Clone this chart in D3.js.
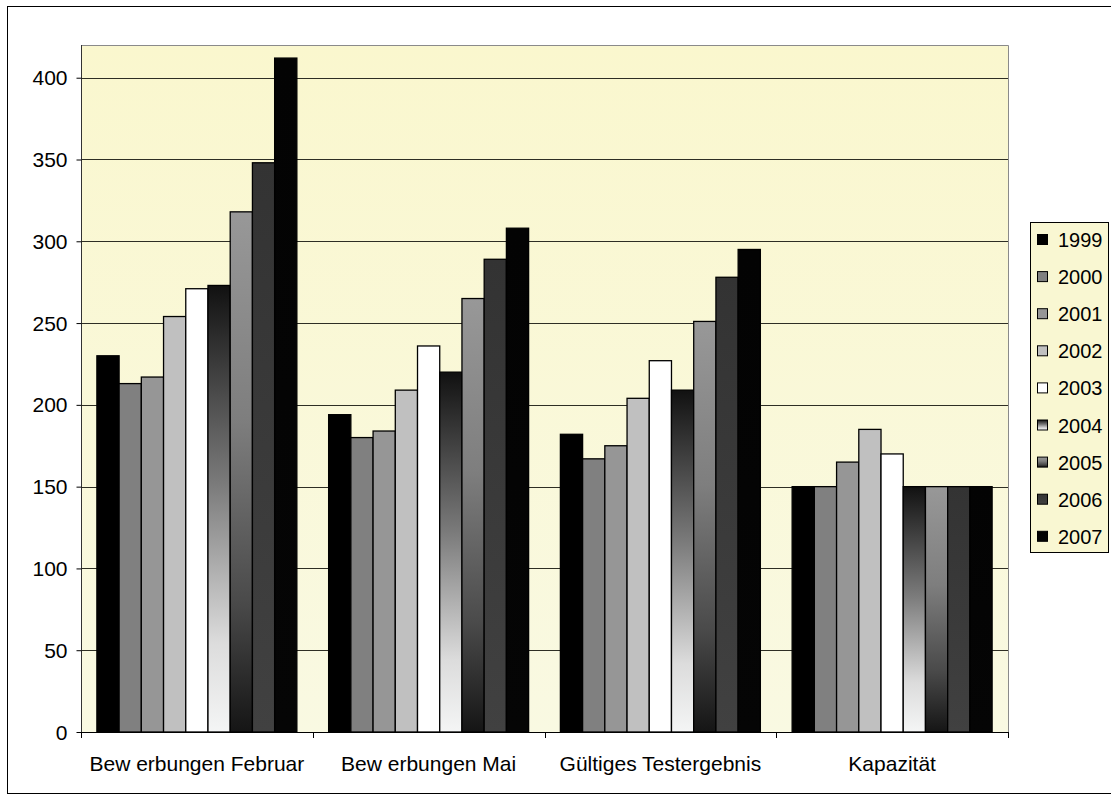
<!DOCTYPE html>
<html>
<head>
<meta charset="utf-8">
<script src="https://cdn.jsdelivr.net/npm/d3@7"></script>
<style>
  html, body { margin: 0; padding: 0; background: #ffffff; }
  svg { display: block; }
  text { font-family: "Liberation Sans", Arial, sans-serif; fill: #000; }
</style>
</head>
<body>
<svg id="chart" width="1111" height="800"></svg>
<script>
// Kategorien und Jahre
const categories = ["Bew erbungen Februar", "Bew erbungen Mai", "Gültiges Testergebnis", "Kapazität"];
const years = ["1999", "2000", "2001", "2002", "2003", "2004", "2005", "2006", "2007"];

// Werte je Jahr, in Reihenfolge der Kategorien
const v1999 = [230, 194, 182, 150];
const v2000 = [213, 180, 167, 150];
const v2001 = [217, 184, 175, 165];
const v2002 = [254, 209, 204, 185];
const v2003 = [271, 236, 227, 170];
const v2004 = [273, 220, 209, 150];
const v2005 = [318, 265, 251, 150];
const v2006 = [348, 289, 278, 150];
const v2007 = [412, 308, 295, 150];
const seriesValues = [v1999, v2000, v2001, v2002, v2003, v2004, v2005, v2006, v2007];

const yTicks = [0, 50, 100, 150, 200, 250, 300, 350, 400];
const yMax = 420;

// Füllungen je Jahr (Farbverläufe über Bar-Höhe für 2004/2005/2006)
const fills = {
  "1999": { stops: [["0%", "#000000"], ["100%", "#000000"]] },
  "2000": { stops: [["0%", "#808080"], ["100%", "#808080"]] },
  "2001": { stops: [["0%", "#969696"], ["100%", "#969696"]] },
  "2002": { stops: [["0%", "#c0c0c0"], ["100%", "#c0c0c0"]] },
  "2003": { stops: [["0%", "#ffffff"], ["100%", "#ffffff"]] },
  "2004": { stops: [["0%", "#111111"], ["45%", "#7c7c7c"], ["80%", "#dcdcdc"], ["100%", "#f4f5f5"]] },
  "2005": { stops: [["0%", "#989898"], ["40%", "#7e7e7e"], ["75%", "#4a4a4a"], ["100%", "#151515"]] },
  "2006": { stops: [["0%", "#333333"], ["100%", "#414141"]] },
  "2007": { stops: [["0%", "#030303"], ["100%", "#050505"]] }
};

const svg = d3.select("#chart");
const defs = svg.append("defs");

years.forEach(yr => {
  const g = defs.append("linearGradient")
    .attr("id", "fill" + yr)
    .attr("x1", 0).attr("y1", 0).attr("x2", 0).attr("y2", 1);
  fills[yr].stops.forEach(s => g.append("stop").attr("offset", s[0]).attr("stop-color", s[1]));
});

const bgGrad = defs.append("linearGradient")
  .attr("id", "plotBg").attr("x1", 0).attr("y1", 0).attr("x2", 0).attr("y2", 1);
bgGrad.append("stop").attr("offset", "0%").attr("stop-color", "#faf7ce");
bgGrad.append("stop").attr("offset", "100%").attr("stop-color", "#f9f9e2");

// Diagrammbereich
svg.append("rect")
  .attr("x", 7.5).attr("y", 6.5).attr("width", 1110).attr("height", 787)
  .attr("fill", "#ffffff").attr("stroke", "#000").attr("stroke-width", 1);

const plot = { left: 81, right: 1008, top: 45, bottom: 732 };

const x0 = d3.scaleBand().domain(categories).range([plot.left, plot.right]).padding(0);
const x1 = d3.scaleBand().domain(years).range([0, x0.bandwidth()]).paddingInner(0).paddingOuter(0.715);
const y = d3.scaleLinear().domain([0, yMax]).range([plot.bottom, plot.top]);

// Zeichenfläche
svg.append("rect")
  .attr("x", plot.left).attr("y", plot.top)
  .attr("width", plot.right - plot.left).attr("height", plot.bottom - plot.top)
  .attr("fill", "url(#plotBg)");
svg.append("path")
  .attr("d", `M${plot.left},${plot.top + 0.5}H${plot.right + 0.5}V${plot.bottom}`)
  .attr("fill", "none").attr("stroke", "#8a8a8a").attr("stroke-width", 1);

// Gitterlinien
svg.append("g")
  .selectAll("line")
  .data(yTicks.filter(t => t > 0))
  .join("line")
  .attr("x1", plot.left).attr("x2", plot.right)
  .attr("y1", d => Math.round(y(d)) + 0.5).attr("y2", d => Math.round(y(d)) + 0.5)
  .attr("stroke", "#2e2e24").attr("stroke-width", 1);

// Balken
const groups = svg.append("g")
  .selectAll("g")
  .data(categories)
  .join("g")
  .attr("transform", d => `translate(${x0(d)},0)`);

groups.selectAll("rect")
  .data((c, ci) => years.map((yr, si) => ({ yr, value: seriesValues[si][ci] })))
  .join("rect")
  .attr("x", d => x1(d.yr))
  .attr("y", d => y(d.value))
  .attr("width", x1.bandwidth())
  .attr("height", d => y(0) - y(d.value))
  .attr("fill", d => `url(#fill${d.yr})`)
  .attr("stroke", "#000")
  .attr("stroke-width", 1.3);

// Y-Achse
const yAxis = d3.axisLeft(y).tickValues(yTicks).tickSize(5).tickPadding(9).tickFormat(d3.format("d"));
const gy = svg.append("g").attr("transform", `translate(${plot.left + 0.5},0)`).call(yAxis);
gy.select(".domain").attr("stroke", "#333").attr("d", `M-5,${y(yMax)}H0V${plot.bottom}`)
  .attr("d", `M0,${plot.top}V${plot.bottom}`);
gy.selectAll(".tick line").attr("stroke", "#000");
gy.selectAll(".tick text")
  .style("font-family", '"Liberation Sans", Arial, sans-serif')
  .style("font-size", "21px").attr("fill", "#000").attr("dy", "0.34em");

// X-Achse
const xAxis = d3.axisBottom(x0).tickSize(0).tickPadding(24);
const gx = svg.append("g").attr("transform", `translate(0,${plot.bottom + 0.5})`).call(xAxis);
gx.select(".domain").attr("stroke", "#000").attr("d", `M${plot.left},0H${plot.right}`);
gx.selectAll(".tick text")
  .style("font-family", '"Liberation Sans", Arial, sans-serif')
  .style("font-size", "21px").attr("fill", "#000");
// Trennstriche zwischen Kategorien
svg.append("g").selectAll("line")
  .data(categories.map(c => x0(c)).concat([plot.right]))
  .join("line")
  .attr("x1", d => Math.round(d) + 0.5).attr("x2", d => Math.round(d) + 0.5)
  .attr("y1", plot.bottom).attr("y2", plot.bottom + 6)
  .attr("stroke", "#000");

// Legende
const legend = svg.append("g");
legend.append("rect")
  .attr("x", 1030.5).attr("y", 222.5).attr("width", 78).attr("height", 330)
  .attr("fill", "#f9f7d2").attr("stroke", "#000").attr("stroke-width", 1);
const items = legend.selectAll("g.item")
  .data(years)
  .join("g").attr("class", "item")
  .attr("transform", (d, i) => `translate(0,${240 + i * 37.1})`);
items.append("rect")
  .attr("x", 1037.5).attr("y", -5.5).attr("width", 10).attr("height", 10)
  .attr("fill", d => `url(#fill${d})`).attr("stroke", "#000").attr("stroke-width", 1);
items.append("text")
  .attr("x", 1058).attr("y", 0).attr("dy", "0.35em")
  .style("font-size", "20px")
  .text(d => d);
</script>
</body>
</html>
